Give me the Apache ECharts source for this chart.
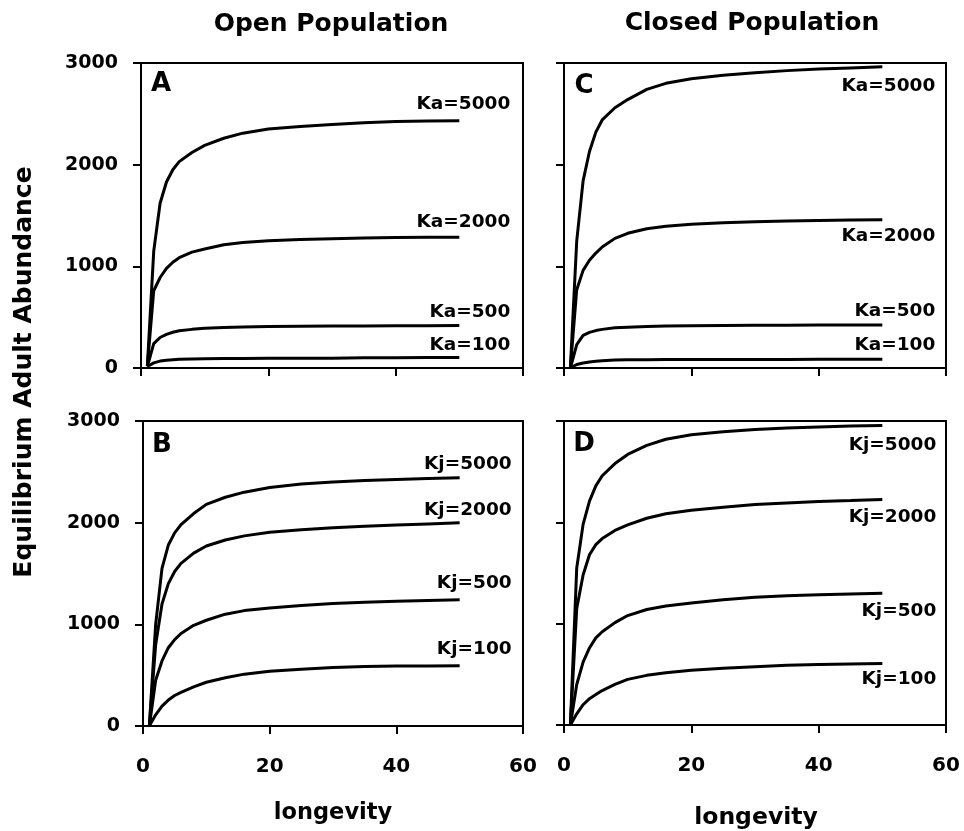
<!DOCTYPE html>
<html>
<head>
<meta charset="utf-8">
<script src="https://cdn.jsdelivr.net/npm/echarts@6/dist/echarts.min.js"></script>
<style>
html,body{margin:0;padding:0;background:#fff;}
#chart{width:964px;height:831px;}
</style>
</head>
<body>
<div id="chart"></div>
<script>
// ---- data ----
var longevity = [1, 2, 3, 4, 5, 6, 8, 10, 13, 16, 20, 25, 30, 35, 40, 45, 50];
var xTicks = [0, 20, 40, 60];
var yTicks = [0, 1000, 2000, 3000];

// Panel A: open population, adult carrying capacity Ka
var openKa5000 = [20, 1150, 1620, 1830, 1950, 2030, 2120, 2190, 2260, 2310, 2350, 2375, 2395, 2412, 2424, 2430, 2432];
var openKa2000 = [20, 760, 890, 980, 1040, 1085, 1140, 1170, 1212, 1235, 1252, 1264, 1272, 1279, 1283, 1285, 1287];
var openKa500  = [15, 240, 300, 330, 352, 366, 380, 390, 398, 403, 407, 410, 412, 414, 415, 416, 417];
var openKa100  = [15, 50, 68, 76, 82, 86, 89, 91, 93, 94, 95, 96, 97, 100, 102, 103, 104];

// Panel C: closed population, Ka
var closedKa5000 = [0, 1250, 1840, 2130, 2320, 2440, 2560, 2640, 2740, 2800, 2845, 2880, 2905, 2925, 2940, 2952, 2962];
var closedKa2000 = [0, 770, 960, 1060, 1130, 1190, 1275, 1325, 1370, 1395, 1415, 1428, 1438, 1445, 1450, 1455, 1458];
var closedKa500  = [0, 230, 320, 350, 368, 380, 395, 402, 408, 412, 415, 418, 420, 421, 422, 423, 424];
var closedKa100  = [0, 35, 50, 60, 67, 72, 78, 80, 82, 83, 83, 84, 84, 84, 85, 85, 85];

// Panel B: open population, juvenile carrying capacity Kj
var openKj5000 = [0, 1000, 1550, 1780, 1900, 1980, 2090, 2180, 2250, 2300, 2345, 2380, 2400, 2415, 2425, 2435, 2442];
var openKj2000 = [0, 800, 1200, 1400, 1520, 1600, 1700, 1770, 1830, 1870, 1905, 1930, 1950, 1965, 1978, 1988, 1998];
var openKj500  = [0, 450, 640, 770, 850, 910, 990, 1040, 1100, 1135, 1160, 1185, 1205, 1218, 1228, 1235, 1241];
var openKj100  = [0, 110, 195, 255, 300, 330, 385, 430, 475, 510, 538, 558, 575, 586, 589, 591, 593];

// Panel D: closed population, Kj
var closedKj5000 = [0, 1550, 1980, 2210, 2360, 2460, 2580, 2670, 2760, 2820, 2865, 2895, 2915, 2930, 2940, 2950, 2956];
var closedKj2000 = [0, 1150, 1480, 1680, 1780, 1840, 1920, 1975, 2040, 2085, 2120, 2150, 2175, 2190, 2205, 2215, 2226];
var closedKj500  = [0, 400, 620, 760, 860, 920, 1010, 1080, 1140, 1175, 1205, 1235, 1260, 1275, 1285, 1292, 1299];
var closedKj100  = [0, 110, 200, 260, 300, 340, 400, 450, 490, 515, 540, 560, 575, 590, 598, 603, 608];

var seriesNames = {
  A: ['Ka=5000', 'Ka=2000', 'Ka=500', 'Ka=100'],
  C: ['Ka=5000', 'Ka=2000', 'Ka=500', 'Ka=100'],
  B: ['Kj=5000', 'Kj=2000', 'Kj=500', 'Kj=100'],
  D: ['Kj=5000', 'Kj=2000', 'Kj=500', 'Kj=100']
};
var panelData = {
  A: [openKa5000, openKa2000, openKa500, openKa100],
  C: [closedKa5000, closedKa2000, closedKa500, closedKa100],
  B: [openKj5000, openKj2000, openKj500, openKj100],
  D: [closedKj5000, closedKj2000, closedKj500, closedKj100]
};

// ---- layout / styles ----
var FONT = 'DejaVu Sans';
var panels = [
  {key: 'A', grid: {left: 141, top: 63, width: 382, height: 305}, xLabels: false, yLabels: true,
   letter: [161, 84], labelDx: 51, labelDy: [-17, -15, -13, -12]},
  {key: 'C', grid: {left: 564, top: 63, width: 382, height: 305}, xLabels: false, yLabels: false,
   letter: [584, 86], labelDx: 53, labelDy: [19, 16, -14, -14]},
  {key: 'B', grid: {left: 143, top: 421, width: 380, height: 305}, xLabels: true, yLabels: true,
   letter: [162, 445], labelDx: 52, labelDy: [-14, -13, -17, -17]},
  {key: 'D', grid: {left: 564, top: 421, width: 382, height: 304}, xLabels: true, yLabels: false,
   letter: [584, 444], labelDx: 54, labelDy: [20, 18, 18, 16]}
];

var grids = [], xAxes = [], yAxes = [], series = [];
panels.forEach(function (p, gi) {
  grids.push(Object.assign({show: true, borderColor: '#000', borderWidth: 2, backgroundColor: 'transparent'}, p.grid));
  xAxes.push({
    type: 'value', gridIndex: gi, min: xTicks[0], max: xTicks[xTicks.length - 1],
    interval: xTicks[1] - xTicks[0],
    axisLine: {show: true, lineStyle: {color: '#000', width: 2}},
    axisTick: {show: true, length: 8, lineStyle: {color: '#000', width: 2}},
    axisLabel: {show: p.xLabels, margin: 31, color: '#000', fontFamily: FONT, fontWeight: 'bold', fontSize: 20,
                formatter: function (v) { return String(v); }},
    splitLine: {show: false}
  });
  yAxes.push({
    type: 'value', gridIndex: gi, min: yTicks[0], max: yTicks[yTicks.length - 1],
    interval: yTicks[1] - yTicks[0],
    axisLine: {show: true, lineStyle: {color: '#000', width: 2}},
    axisTick: {show: true, length: 8, lineStyle: {color: '#000', width: 2}},
    axisLabel: {show: p.yLabels, margin: 23, color: '#000', fontFamily: FONT, fontWeight: 'bold', fontSize: 19,
                formatter: function (v) { return String(v); }},
    splitLine: {show: false}
  });
  panelData[p.key].forEach(function (vals, si) {
    series.push({
      type: 'line', name: p.key + ' ' + seriesNames[p.key][si],
      xAxisIndex: gi, yAxisIndex: gi,
      data: longevity.map(function (x, i) { return [x, vals[i]]; }),
      showSymbol: false, symbol: 'none',
      lineStyle: {color: '#000', width: 3},
      itemStyle: {color: '#000'},
      silent: true, clip: false
    });
  });
});

var chart = echarts.init(document.getElementById('chart'), null, {renderer: 'canvas'});
chart.setOption({
  animation: false,
  backgroundColor: '#fff',
  grid: grids, xAxis: xAxes, yAxis: yAxes, series: series
});

// ---- texts ----
var graphics = [];
function addText(txt, x, y, size, align, rotation) {
  graphics.push({
    type: 'text', x: x, y: y, rotation: rotation || 0, silent: true,
    style: {text: txt, fill: '#000', font: 'bold ' + size + 'px "' + FONT + '"',
            textAlign: align || 'center', textVerticalAlign: 'middle'}
  });
}
addText('Open Population', 331, 24, 25);
addText('Closed Population', 752, 23, 25);
addText('Equilibrium Adult Abundance', 24, 372, 25, 'center', Math.PI / 2);
addText('longevity', 333, 813, 22.5);
addText('longevity', 756, 818, 23.5);

panels.forEach(function (p, gi) {
  addText(p.key, p.letter[0], p.letter[1], 26);
  panelData[p.key].forEach(function (vals, si) {
    var last = vals.length - 1;
    var pt = chart.convertToPixel({gridIndex: gi}, [longevity[last], vals[last]]);
    addText(seriesNames[p.key][si], pt[0] + p.labelDx, pt[1] + p.labelDy[si], 18.5, 'right');
  });
});

chart.setOption({graphic: graphics});
</script>
</body>
</html>
